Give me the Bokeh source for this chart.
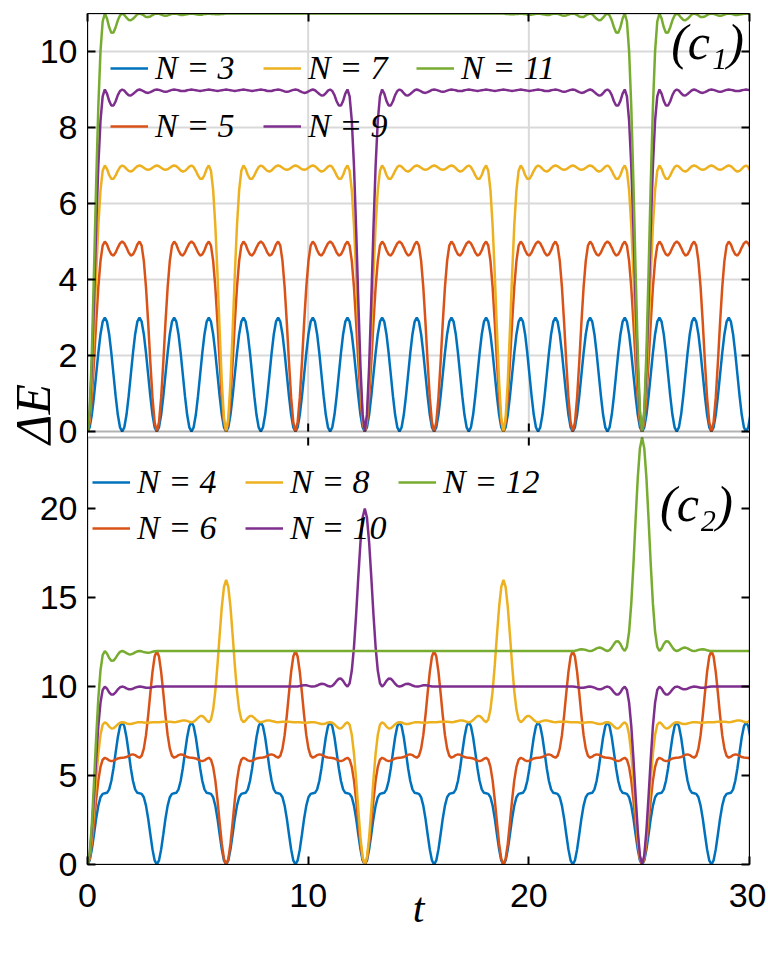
import numpy as np
from bokeh.plotting import figure
from bokeh.models import (Range1d, FixedTicker, LinearAxis, Legend, LegendItem,
                          Label, ColumnDataSource, BoxAnnotation)
from bokeh.embed import file_html
from bokeh.resources import INLINE

# ---------------- data ----------------
T_MAX = 30.0
STEP = np.pi / 32          # spacing of the read samples along t

X_TICKS = [0, 10, 20, 30]
TOP_Y_TICKS = [0, 2, 4, 6, 8, 10]
BOT_Y_TICKS = [0, 5, 10, 15, 20]
TOP_MAX = 11
BOT_MAX = 24

TOP_PERIOD_PI = [0.5, 1, 2, 4, 8]      # repeat period of each curve, in units of pi
BOT_PERIOD_PI = [1, 2, 4, 8, 16]

# (c1): half a period, from a zero of Delta E up to the middle of the plateau
N3_HALF = [0.0, 0.11, 0.44, 0.93, 1.5, 2.07, 2.56, 2.89, 3.0]
N5_HALF = [0.0, 0.24, 0.89, 1.83, 2.87, 3.80, 4.49, 4.89, 5.0,
           4.92, 4.77, 4.66, 4.63, 4.71, 4.84, 4.95, 5.0]
N7_HALF = [0.0, 0.35, 1.31, 2.66, 4.13, 5.42, 6.35, 6.86, 7.0,
           6.91, 6.75, 6.65, 6.65, 6.74, 6.86, 6.96, 7.0,
           6.97, 6.91, 6.86, 6.84, 6.87, 6.93, 6.98, 7.0,
           6.98, 6.94, 6.90, 6.89, 6.90, 6.94, 6.98, 7.0]
N9_HALF = [0.0, 0.45, 1.70, 3.45, 5.34, 7.00, 8.18, 8.82, 9.0,
           8.89, 8.70, 8.58, 8.58, 8.69, 8.85, 8.96, 9.0,
           8.97, 8.90, 8.85, 8.84, 8.88, 8.93, 8.98, 9.0,
           8.98, 8.95, 8.92, 8.91, 8.93, 8.96, 8.99, 9.0,
           8.99, 8.97, 8.95, 8.94, 8.95, 8.97, 8.99, 9.0,
           8.99, 8.98, 8.96, 8.96, 8.96, 8.98, 8.99, 9.0,
           8.99, 8.98, 8.97, 8.96, 8.97, 8.98, 8.99, 9.0,
           8.99, 8.98, 8.97, 8.96, 8.97, 8.98, 8.99, 9.0]
N11_EDGE = [0.0, 0.55, 2.08, 4.23, 6.54, 8.56, 10.01, 10.79, 11.0,
            10.87, 10.64, 10.49, 10.50, 10.64, 10.82, 10.95, 11.0,
            10.96, 10.89, 10.83, 10.82, 10.86, 10.92, 10.98, 11.0,
            10.98, 10.95, 10.91, 10.91, 10.92, 10.96, 10.99, 11.0,
            10.99, 10.97, 10.95, 10.94, 10.95, 10.97, 10.99, 11.0,
            10.99, 10.98, 10.96, 10.96, 10.97, 10.98, 10.99, 11.0,
            10.99, 10.98, 10.97, 10.97, 10.97, 10.99, 10.99, 11.0,
            10.99, 10.99, 10.98, 10.98, 10.98, 10.99, 10.99, 11.0]
N11_LEVEL = 11.0

# (c2): from a zero of Delta E (and, for the long ones, from a peak) outwards
N4_HALF = [0.0, 0.23, 0.85, 1.70, 2.59, 3.31, 3.78, 3.97, 4.0,
           4.03, 4.22, 4.69, 5.41, 6.30, 7.15, 7.77, 8.0]
N6_HALF = [0.0, 0.31, 1.17, 2.37, 3.63, 4.73, 5.49, 5.89, 6.0,
           5.94, 5.85, 5.81, 5.83, 5.90, 5.96, 5.99, 6.0,
           6.01, 6.04, 6.10, 6.17, 6.19, 6.15, 6.06, 6.0,
           6.11, 6.51, 7.27, 8.37, 9.63, 10.83, 11.69, 12.0]
N8_ZERO = [0.0, 0.40, 1.52, 3.10, 4.78, 6.25, 7.29, 7.85, 8.0,
           7.91, 7.75, 7.65, 7.66, 7.76, 7.88, 7.97, 8.0,
           7.98, 7.93, 7.90, 7.90, 7.93, 7.96, 7.99, 8.0,
           7.99, 7.98, 7.97, 7.97, 7.98, 7.99, 8.0, 8.0]
N8_PEAK = [16.0, 15.60, 14.48, 12.90, 11.22, 9.75, 8.71, 8.15, 8.0,
           8.09, 8.25, 8.35, 8.34, 8.24, 8.12, 8.03, 8.0,
           8.02, 8.07, 8.10, 8.10, 8.07, 8.04, 8.01, 8.0,
           8.01, 8.02, 8.03, 8.03, 8.02, 8.01, 8.0, 8.0]
N10_ZERO = [0.0, 0.50, 1.90, 3.86, 5.95, 7.79, 9.10, 9.81, 10.0,
            9.88, 9.68, 9.55, 9.56, 9.68, 9.84, 9.96, 10.0,
            9.97, 9.90, 9.85, 9.85, 9.88, 9.94, 9.98, 10.0,
            9.99, 9.96, 9.93, 9.93, 9.94, 9.97, 9.99, 10.0]
N10_PEAK = [20.0, 19.50, 18.11, 16.15, 14.05, 12.21, 10.90, 10.19, 10.0,
            10.12, 10.32, 10.45, 10.44, 10.32, 10.16, 10.04, 10.0,
            10.03, 10.10, 10.15, 10.16, 10.12, 10.06, 10.02, 10.0,
            10.01, 10.04, 10.07, 10.08, 10.06, 10.03, 10.01, 10.0]
N10_LEVEL = 10.0
N12_ZERO = [0.0, 0.60, 2.27, 4.62, 7.14, 9.34, 10.92, 11.77, 12.0,
            11.86, 11.61, 11.45, 11.46, 11.61, 11.80, 11.95, 12.0,
            11.96, 11.88, 11.82, 11.81, 11.85, 11.92, 11.98, 12.0,
            11.98, 11.94, 11.91, 11.90, 11.92, 11.96, 11.99, 12.0]
N12_PEAK = [24.0, 23.40, 21.73, 19.38, 16.86, 14.66, 13.08, 12.23, 12.0,
            12.14, 12.39, 12.55, 12.54, 12.39, 12.20, 12.05, 12.0,
            12.04, 12.12, 12.18, 12.19, 12.15, 12.08, 12.02, 12.0,
            12.02, 12.06, 12.09, 12.10, 12.08, 12.04, 12.01, 12.0]
N12_LEVEL = 12.0

COLORS = ["#0072BD", "#D95319", "#EDB120", "#7E2F8E", "#77AC30"]
TOP_LABELS = ["N = 3", "N = 5", "N = 7", "N = 9", "N = 11"]
BOT_LABELS = ["N = 4", "N = 6", "N = 8", "N = 10", "N = 12"]


# ---------------- assemble the sampled curves ----------------
def half_period(edge, level, period_pi, peak=None):
    steps = int(round(period_pi * np.pi / 2 / STEP))
    tail = list(peak[::-1][1:]) if peak else []
    n_flat = steps + 1 - len(edge) - len(tail)
    return list(edge) + [level] * max(n_flat, 0) + tail


def series(half):
    one = half + half[-2:0:-1]
    n = int(np.ceil(T_MAX / STEP)) + 2
    vals = (one * (n // len(one) + 1))[:n]
    return np.arange(n) * STEP, np.array(vals)


TOP_HALVES = [
    half_period(N3_HALF, 3.0, TOP_PERIOD_PI[0]),
    half_period(N5_HALF, 5.0, TOP_PERIOD_PI[1]),
    half_period(N7_HALF, 7.0, TOP_PERIOD_PI[2]),
    half_period(N9_HALF, 9.0, TOP_PERIOD_PI[3]),
    half_period(N11_EDGE, N11_LEVEL, TOP_PERIOD_PI[4]),
]
BOT_HALVES = [
    half_period(N4_HALF, 8.0, BOT_PERIOD_PI[0]),
    half_period(N6_HALF, 12.0, BOT_PERIOD_PI[1]),
    half_period(N8_ZERO, 8.0, BOT_PERIOD_PI[2], N8_PEAK),
    half_period(N10_ZERO, N10_LEVEL, BOT_PERIOD_PI[3], N10_PEAK),
    half_period(N12_ZERO, N12_LEVEL, BOT_PERIOD_PI[4], N12_PEAK),
]

# ---------------- layout: one frame holding both stacked panels ----------------
TICK_FONT = "Liberation Sans"
MATH_FONT = "Liberation Serif"
FRAME_W = 662
TOP_PX, GAP_PX, BOT_PX = 418, 6, 427
FRAME_H = TOP_PX + GAP_PX + BOT_PX
BOT_END = BOT_MAX * FRAME_H / BOT_PX
TOP_START = -TOP_MAX * (GAP_PX + BOT_PX) / TOP_PX
TICK_PX = 8


def top_to_main(v):
    return (v - TOP_START) / (TOP_MAX - TOP_START) * BOT_END


p = figure(frame_width=FRAME_W, frame_height=FRAME_H,
           x_range=Range1d(0, T_MAX), y_range=Range1d(0, BOT_END),
           output_backend="svg", toolbar_location=None,
           min_border_left=87, min_border_right=17,
           min_border_top=13, min_border_bottom=85,
           background_fill_color="white", border_fill_color="white")
p.extra_y_ranges = {"top": Range1d(TOP_START, TOP_MAX)}
p.outline_line_color = None
p.xgrid.visible = False
p.ygrid.visible = False

left_ticks = [float(v) for v in BOT_Y_TICKS] + [round(top_to_main(v), 6) for v in TOP_Y_TICKS]
left_labels = [str(v) for v in BOT_Y_TICKS] + [str(v) for v in TOP_Y_TICKS]


def style_axis(ax, ticks, labels=None):
    ax.ticker = FixedTicker(ticks=ticks)
    ax.major_tick_in = TICK_PX
    ax.major_tick_out = 0
    ax.major_tick_line_width = 2
    ax.major_tick_line_color = "black"
    ax.minor_tick_line_color = None
    ax.axis_line_width = 1
    ax.axis_line_color = "black"
    if labels is None:
        ax.major_label_overrides = {t: "" for t in ticks}
        ax.major_label_text_font_size = "0px"
        ax.major_label_standoff = 0
    else:
        ax.major_label_overrides = dict(zip(ticks, labels))
        ax.major_label_text_font = TICK_FONT
        ax.major_label_text_font_size = "34px"
        ax.major_label_text_color = "black"


yax = p.yaxis[0]
style_axis(yax, left_ticks, left_labels)
yax.major_label_standoff = 10
yax.axis_label = "\u2003\u0394E"
yax.axis_label_text_font = MATH_FONT
yax.axis_label_text_font_style = "italic"
yax.axis_label_text_font_size = "50px"
yax.axis_label_text_color = "black"
yax.axis_label_standoff = -24

xax = p.xaxis[0]
style_axis(xax, [float(v) for v in X_TICKS], [str(v) for v in X_TICKS])
xax.major_label_standoff = 19
xax.axis_label = "t"
xax.axis_label_text_font = MATH_FONT
xax.axis_label_text_font_style = "italic"
xax.axis_label_text_font_size = "42px"
xax.axis_label_text_color = "black"
xax.axis_label_standoff = -25

top_ax = LinearAxis()
style_axis(top_ax, [float(v) for v in X_TICKS])
p.add_layout(top_ax, "above")
right_ax = LinearAxis()
style_axis(right_ax, left_ticks)
p.add_layout(right_ax, "right")

# grid of the upper panel only
inner_x = [v for v in X_TICKS if 0 < v < T_MAX]
inner_y = [v for v in TOP_Y_TICKS if 0 < v < TOP_MAX]
p.segment(x0=inner_x, y0=[0] * len(inner_x), x1=inner_x, y1=[TOP_MAX] * len(inner_x),
          y_range_name="top", line_color="#d9d9d9", line_width=2)
p.segment(x0=[0] * len(inner_y), y0=inner_y, x1=[T_MAX] * len(inner_y), y1=inner_y,
          y_range_name="top", line_color="#d9d9d9", line_width=2)


def add_curves(halves, labels, location, spacing, label_width, range_name):
    items = []
    for half, lab, col in zip(halves, labels, COLORS):
        t, v = series(half)
        src = ColumnDataSource(dict(t=t, v=v))
        kw = {"y_range_name": range_name} if range_name else {}
        r = p.line("t", "v", source=src, line_color=col, line_width=2.5, **kw)
        items.append(LegendItem(label=lab, renderers=[r]))
    leg = Legend(items=items, orientation="vertical", nrows=2,
                 location=location, background_fill_alpha=0,
                 border_line_color=None, padding=0, margin=0,
                 spacing=spacing, glyph_width=38, glyph_height=20,
                 label_standoff=7, label_width=label_width,
                 label_text_font=MATH_FONT, label_text_font_style="italic",
                 label_text_font_size="34px", label_text_color="black")
    p.add_layout(leg)


add_curves(TOP_HALVES, TOP_LABELS, (23, GAP_PX + BOT_PX + 286), 20, 88, "top")
add_curves(BOT_HALVES, BOT_LABELS, (5, 317), 8, 100, None)

# frames of the two panels and the inner ticks along the gap between them
p.add_layout(BoxAnnotation(left=0, right=T_MAX, bottom=0, top=TOP_MAX, y_range_name="top",
                           fill_color=None, line_color="black", line_width=2))
p.add_layout(BoxAnnotation(left=0, right=T_MAX, bottom=0, top=BOT_MAX,
                           fill_color=None, line_color="black", line_width=2))
p.segment(x0=inner_x, y0=[0] * len(inner_x), x1=inner_x,
          y1=[TICK_PX * TOP_MAX / TOP_PX] * len(inner_x),
          y_range_name="top", line_color="black", line_width=2)
p.segment(x0=inner_x, y0=[BOT_MAX] * len(inner_x), x1=inner_x,
          y1=[BOT_MAX - TICK_PX * BOT_MAX / BOT_PX] * len(inner_x),
          line_color="black", line_width=2)

p.add_layout(Label(x=28.1, y=10.25, y_range_name="top", text="(c\u2081)", text_align="center",
                   text_baseline="middle", text_font=MATH_FONT, text_color="black",
                   text_font_style="italic", text_font_size="50px"))
p.add_layout(Label(x=27.6, y=20.25, text="(c\u2082)", text_align="center",
                   text_baseline="middle", text_font=MATH_FONT, text_color="black",
                   text_font_style="italic", text_font_size="50px"))

open("out.html", "w").write(file_html(p, INLINE))
